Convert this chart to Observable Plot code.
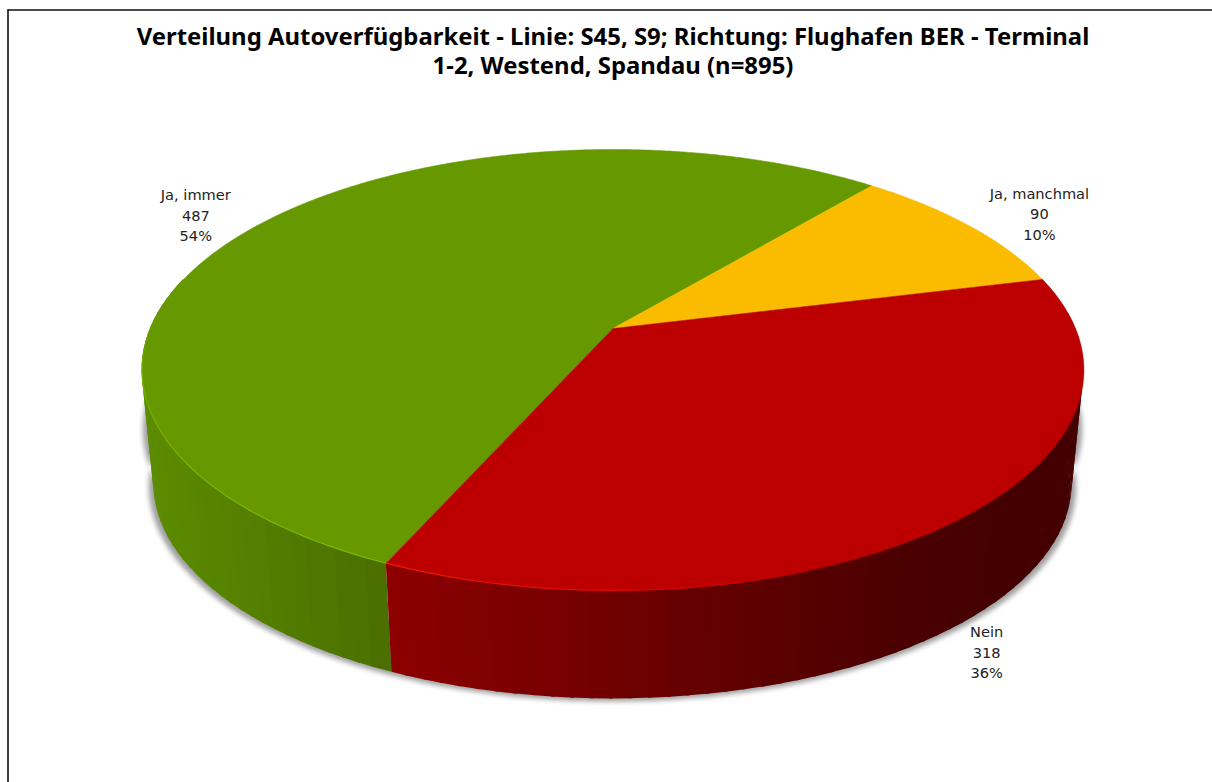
<!DOCTYPE html>
<html>
<head>
<meta charset="utf-8">
<script src="https://cdn.jsdelivr.net/npm/d3@7"></script>
<script src="https://cdn.jsdelivr.net/npm/@observablehq/plot@0.6"></script>
<style>
html,body{margin:0;padding:0;background:#fff;overflow:hidden}
svg{display:block}
</style>
</head>
<body>
<div id="chart"></div>
<script>
const chartTitle = "Verteilung Autoverfügbarkeit - Linie: S45, S9; Richtung: Flughafen BER - Terminal\n1-2, Westend, Spandau (n=895)";
const categories = ["Ja, immer", "Ja, manchmal", "Nein"];
const counts = [487, 90, 318];
const percents = ["54%", "10%", "36%"];
const topColors = ["#669900", "#fbbc00", "#bc0000"];

// Pixel-space scales and the 3D pie's perspective camera
const W = 1212, H = 782;
const cx = 612.5, cy = 328;
const A = 462.5, B = 212.7, P = -0.188; // homography of the pie's disc
const depthY = 115, depthS = 0.975;     // bottom rim relative to top rim
const startDeg = 113.95;
const rad = d => d * Math.PI / 180;
const project = (t, depth = 0, sx = 1, oy = 0) => {
  const w = 1 + P * Math.sin(t);
  const s = 1 - depth * (1 - depthS);
  return {
    x: cx + s * sx * A * Math.cos(t) / w,
    y: cy + depth * depthY + oy + s * B * Math.sin(t) / w
  };
};

const arcs = d3.pie().sort(null).startAngle(rad(startDeg)).endAngle(rad(startDeg + 360))(counts);
const slices = categories.map((name, i) => ({
  name, count: counts[i], pct: percents[i], color: topColors[i],
  t0: arcs[i].startAngle, t1: arcs[i].endAngle, mid: (arcs[i].startAngle + arcs[i].endAngle) / 2
}));

const stepsBetween = (a, b, step) => {
  const n = Math.max(1, Math.ceil((b - a) / step));
  return d3.range(n + 1).map(k => a + (b - a) * k / n);
};

// Top faces
const topFaces = slices.flatMap(s => [
  {name: s.name, color: s.color, x: cx, y: cy},
  ...stepsBetween(s.t0, s.t1, rad(0.5)).map(t => ({name: s.name, color: s.color, ...project(t)})),
  {name: s.name, color: s.color, x: cx, y: cy}
]);

// Side walls: narrow shaded bands, darker towards the right
const wallShades = [
  d3.scaleLinear().domain([141, 386]).range(["#5c8c00", "#4a6f00"]).clamp(true),
  d3.scaleLinear().domain([900, 1000]).range(["#4a0000", "#440000"]).clamp(true),
  d3.scaleLinear().domain([392, 560, 700, 900, 1000]).range(["#8c0000", "#780000", "#650000", "#4c0000", "#440000"]).clamp(true)
];
const visibleFrom = rad(-14), visibleTo = rad(194);
const walls = [];
slices.forEach((s, i) => {
  const spans = [];
  // a slice may wrap around; keep only its front-facing part
  [0, -2 * Math.PI].forEach(off => {
    const a = Math.max(s.t0 + off, visibleFrom), b = Math.min(s.t1 + off, visibleTo);
    if (b > a) spans.push([a, b]);
  });
  spans.forEach(([a, b]) => {
    const edges = stepsBetween(a, b, rad(2));
    // painted from the end backwards so that each band overlaps its neighbour by a hair
    edges.slice(0, -1).reverse().forEach((t, k) => {
      const tEnd = Math.min(b, t + rad(2.4));
      const color = wallShades[i](project(t + rad(1)).x);
      [t, tEnd].forEach(u => {
        const p = project(u), q = project(u, 1);
        walls.push({band: `${i}-${a}-${k}`, color, x1: p.x, y1: p.y, x2: q.x, y2: q.y});
      });
    });
  });
});

// Soft highlight on the rim above the wall
const rimGreen = d3.scaleLinear().domain([rad(startDeg), rad(170), rad(186)]).range(["#7dbb00", "#74ad00", "#669900"]).clamp(true);
const rimRed = d3.scaleLinear().domain([rad(startDeg), rad(90), rad(70)]).range(["#ee1a00", "#dd0a00", "#bc0000"]).clamp(true);
const rim = [
  ...stepsBetween(rad(startDeg), rad(186), rad(1)).map(t => ({part: "g", color: rimGreen(t), ...project(t)})),
  ...stepsBetween(rad(70), rad(startDeg), rad(1)).map(t => ({part: "r", color: rimRed(t), ...project(t)}))
];

// Drop shadow hugging the lower part of the wall
const shadow = stepsBetween(visibleFrom, visibleTo, rad(2)).map(t => {
  const p = project(t, 0.5, 1.01, 3), q = project(t, 1, 1.01, 3);
  return {x1: p.x, y1: p.y, x2: q.x, y2: q.y};
});

const labelNudges = [[-60, -12], [70, -13], [35, 22]];
const labelMarks = slices.map((s, i) => {
  const p = project(s.mid, i === 2 ? 1 : 0);
  return Plot.text([s], {
    x: () => p.x, y: () => p.y,
    text: d => `${d.name}\n${d.count}\n${d.pct}`,
    dx: labelNudges[i][0], dy: labelNudges[i][1],
    fontFamily: "DejaVu Sans", fontSize: 14.6, lineHeight: 1.4, fill: "#222", textAnchor: "middle"
  });
});

const plot = Plot.plot({
  width: W, height: H,
  marginTop: 0, marginRight: 0, marginBottom: 0, marginLeft: 0,
  x: {domain: [0, W], range: [0, W], axis: null},
  y: {domain: [0, H], range: [0, H], axis: null},
  color: {type: "identity"},
  style: {background: "#fff"},
  marks: [
    Plot.ruleX([7.5], {y1: 9.5, y2: H, stroke: "#111", strokeWidth: 1.6}),
    Plot.ruleY([9.5], {x1: 7.5, x2: W, stroke: "#111", strokeWidth: 1.6}),
    Plot.area(shadow, {x1: "x1", y1: "y1", x2: "x2", y2: "y2", fill: "#888", fillOpacity: 0.8, imageFilter: "blur(2.5px)"}),
    Plot.area(walls, {x1: "x1", y1: "y1", x2: "x2", y2: "y2", z: "band", fill: "color"}),
    Plot.line(topFaces, {x: "x", y: "y", z: "name", fill: "color", stroke: "color", strokeWidth: 0.5}),
    Plot.line(rim, {x: "x", y: "y", z: "part", stroke: "color", strokeWidth: 1.2}),
    Plot.text([chartTitle], {
      x: () => cx, y: () => 50, text: d => d,
      fontFamily: "Noto Sans", fontWeight: "bold", fontSize: 23.9, lineHeight: 1.21, fill: "#000", textAnchor: "middle"
    }),
    ...labelMarks
  ]
});
document.getElementById("chart").appendChild(plot);
</script>
</body>
</html>
